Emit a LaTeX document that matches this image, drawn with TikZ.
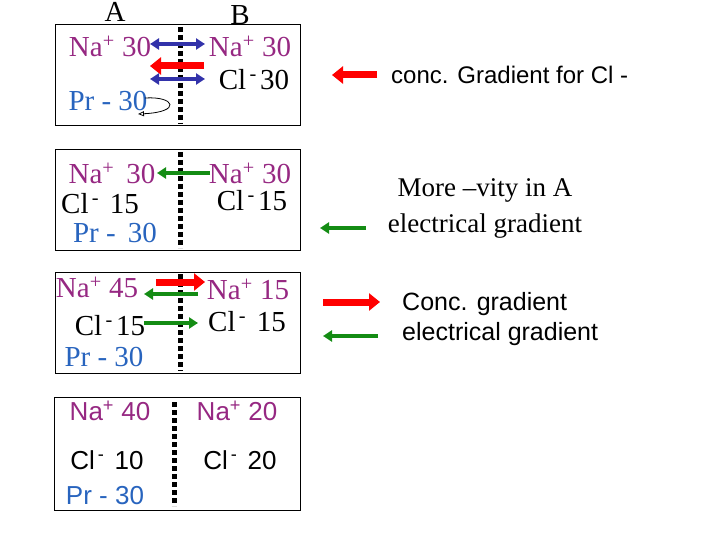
\documentclass[tikz,border=0pt]{standalone}
\usepackage{fontspec}
\setmainfont{Liberation Serif}
\setsansfont{Liberation Sans}
\usetikzlibrary{arrows.meta}
\definecolor{na}{RGB}{150,40,130}
\definecolor{pr}{RGB}{40,100,190}
\definecolor{ab}{RGB}{50,50,170}
\definecolor{ag}{RGB}{20,140,20}
\newcommand{\pl}{\textsuperscript{+}}
\newcommand{\mn}{\textsuperscript{\,-\,}}
\begin{document}
\begin{tikzpicture}[x=1pt,y=-1pt,
 box/.style={draw,line width=1pt},
 mem/.style={line width=5pt,dash pattern=on 5pt off 3pt},
 t/.style={font=\fontsize{29}{32}\selectfont,inner sep=0pt},
 ts/.style={font=\sffamily\fontsize{26}{29}\selectfont,inner sep=0pt},
 blu/.style={draw=ab,line width=3.5pt,{Triangle[length=9pt,width=11pt]}-{Triangle[length=9pt,width=11pt]}},
 redar/.style={draw=red,line width=7pt,-{Triangle[length=11pt,width=17pt]}},
 grn/.style={draw=ag,line width=3.5pt,-{Triangle[length=9pt,width=11pt]}}]
\useasboundingbox (0,0) rectangle (720,540);
% boxes
\draw[box] (55,25) rectangle (300,126);
\draw[box] (55,150) rectangle (300,250);
\draw[box] (55,272) rectangle (300,373);
\draw[box] (54,397) rectangle (300,510);
\draw[mem] (180,27) -- (180,124);
\draw[mem] (180,152) -- (180,248);
\draw[mem] (180,274) -- (180,371);
\draw[mem] (174,402) -- (174,506);
\node[t] (A) at (115,12) {A};
\node[t] (B) at (240,15) {B};
% box1
\node[t,text=na] (n1a) at (110,46) {Na\pl\ 30};
\node[t,text=na] (n1b) at (250,46) {Na\pl\ 30};
\node[t] (c1b) at (254,80) {Cl\mn30};
\node[t,text=pr] (p1a) at (108,101) {Pr - 30};
\coordinate (b1l) at (150,44); \coordinate (b1r) at (205,44);
\draw[blu] (b1l) -- (b1r);
\coordinate (r1s) at (204,66); \coordinate (r1e) at (150,66);
\draw[redar] (r1s) -- (r1e);
\coordinate (b2l) at (150,79); \coordinate (b2r) at (205,79);
\draw[blu] (b2l) -- (b2r);
\coordinate (cs) at (145,98); \coordinate (ce) at (138,114);
\draw[line width=0.8pt,-{Triangle[open,length=6pt,width=5pt]}] (cs) .. controls (175,96) and (182,112) .. (ce);
% box2
\node[t,text=na] (n2a) at (112,173) {Na\pl\ \,30};
\node[t,text=na] (n2b) at (250,173) {Na\pl\ 30};
\node[t] (c2a) at (100,204) {Cl\mn\ 15};
\node[t] (c2b) at (252,201) {Cl\mn15};
\node[t,text=pr] (p2a) at (115,233) {Pr - \,30};
\coordinate (g1s) at (210,173); \coordinate (g1e) at (157,173);
\draw[grn] (g1s) -- (g1e);
% box3
\node[t,text=na] (n3a) at (97,287) {Na\pl\ 45};
\node[t,text=na] (n3b) at (248,289) {Na\pl\ 15};
\node[t] (c3a) at (110,326) {Cl\mn15};
\node[t] (c3b) at (247,322) {Cl\mn\ 15};
\node[t,text=pr] (p3a) at (104,357) {Pr - 30};
\coordinate (r3s) at (156,282); \coordinate (r3e) at (205,282);
\draw[redar] (r3s) -- (r3e);
\coordinate (g3s) at (198,294); \coordinate (g3e) at (144,294);
\draw[grn] (g3s) -- (g3e);
\coordinate (g4s) at (144,323); \coordinate (g4e) at (198,323);
\draw[grn] (g4s) -- (g4e);
% box4
\node[ts,text=na] (n4a) at (110,411) {Na\pl\ 40};
\node[ts,text=na] (n4b) at (237,411) {Na\pl\ 20};
\node[ts] (c4a) at (107,460) {Cl\mn\ 10};
\node[ts] (c4b) at (240,460) {Cl\mn\ 20};
\node[ts,text=pr] (p4a) at (105,496) {Pr - 30};
% right side
\coordinate (rr1s) at (377,75); \coordinate (rr1e) at (332,75);
\draw[redar] (rr1s) -- (rr1e);
\node[ts,anchor=west,font=\sffamily\fontsize{24}{28}\selectfont] (l1) at (391,75) {conc. Gradient for Cl -};
\node[t,align=center,font=\fontsize{27}{36}\selectfont] (l2) at (485,208) {More –vity in A\\electrical gradient};
\coordinate (gg1s) at (366,228); \coordinate (gg1e) at (320,228);
\draw[grn] (gg1s) -- (gg1e);
\coordinate (rr2s) at (323,302); \coordinate (rr2e) at (380,302);
\draw[redar] (rr2s) -- (rr2e);
\coordinate (gg2s) at (378,336); \coordinate (gg2e) at (323,336);
\draw[grn] (gg2s) -- (gg2e);
\node[ts,anchor=west,align=left,font=\sffamily\fontsize{25}{30}\selectfont] (l3) at (402,319) {Conc. gradient\\electrical gradient};
\end{tikzpicture}
\end{document}
